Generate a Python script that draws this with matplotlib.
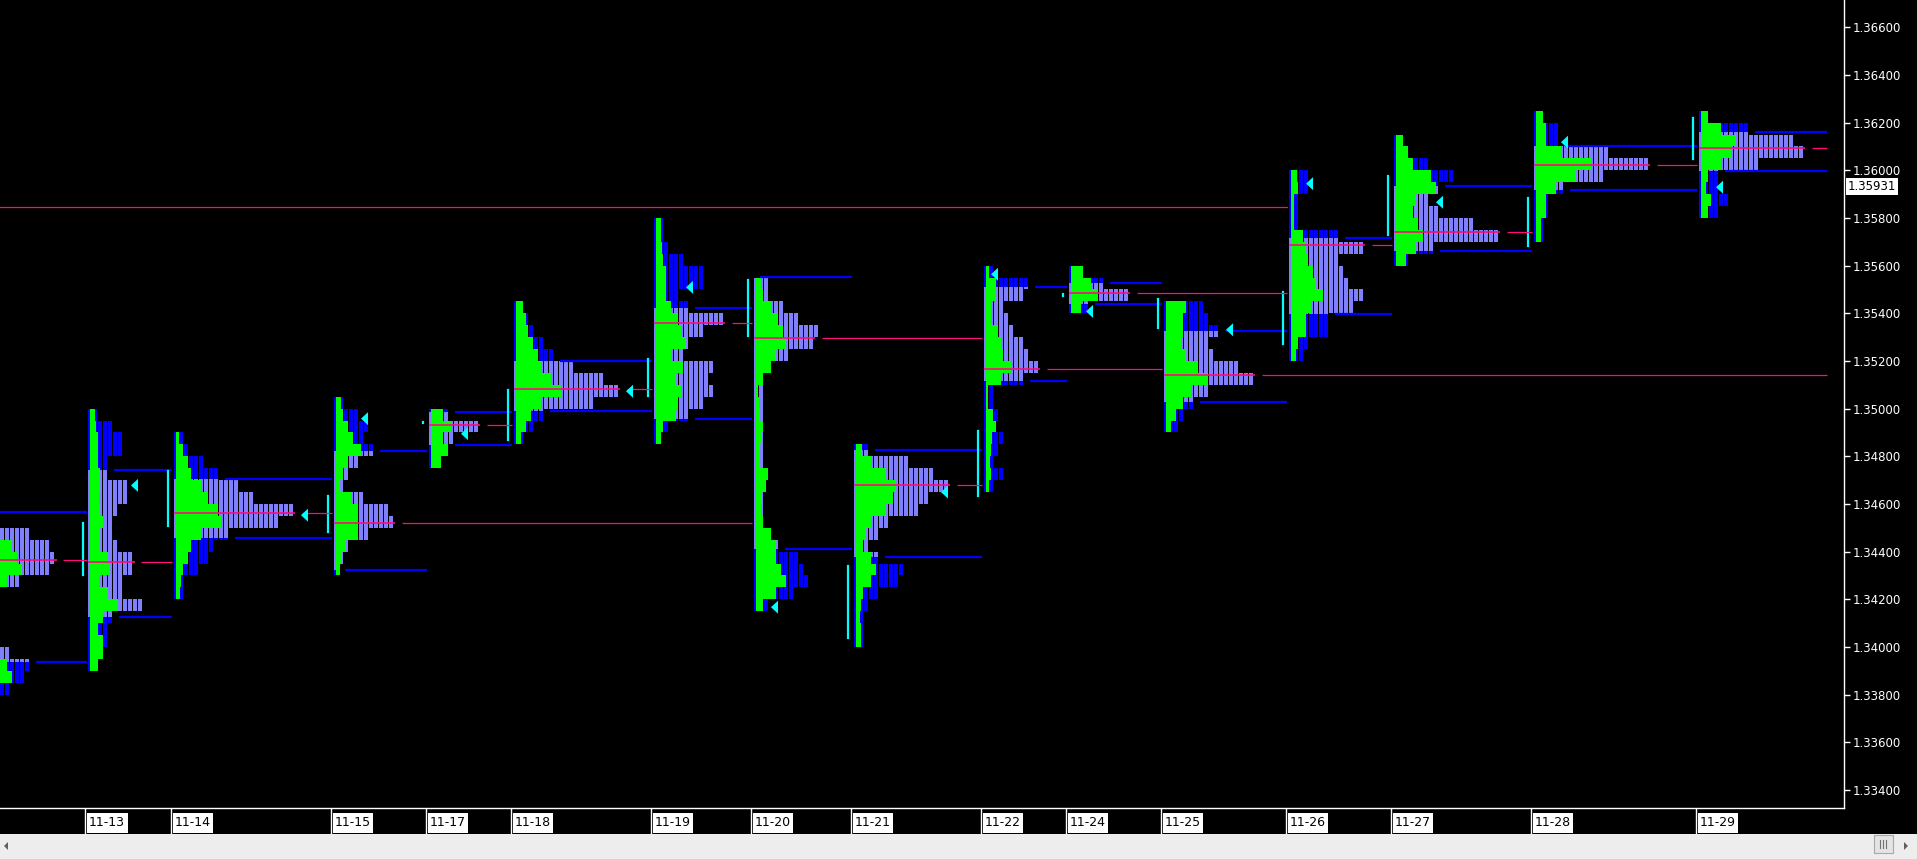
import numpy as np
import matplotlib
matplotlib.use('Agg')
import matplotlib.pyplot as plt
from matplotlib.patches import Polygon, Rectangle

# ---------------- data ----------------
BIN = 0.0005  # price height of one TPO row

days = ['11-12', '11-13', '11-14', '11-15', '11-17', '11-18', '11-19', '11-20',
        '11-21', '11-22', '11-24', '11-25', '11-26', '11-27', '11-28', '11-29']
# start of each session in TPO-period units
day_bar = [-4, 17.6, 34.7, 66.7, 85.7, 102.7, 130.7, 150.7,
           170.7, 196.7, 213.7, 232.7, 257.7, 278.7, 306.7, 339.7]
# upper price of the first row of each profile
profile_top = [1.3460, 1.3500, 1.3490, 1.3505, 1.3500, 1.3545, 1.3580, 1.3555,
               1.3485, 1.3560, 1.3560, 1.3545, 1.3600, 1.3615, 1.3625, 1.3625]
# TPO counts per row (top -> bottom)
tpo_11_12 = [2, 3, 10, 14, 15, 14, 8, 3, 3, 3, 3, 3, 6, 10, 9, 6]
tpo_11_13 = [2, 5, 7, 7, 4, 4, 8, 8, 6, 5, 5, 6, 9, 9, 7, 7, 11, 5, 4, 4, 3, 2]
tpo_11_14 = [2, 3, 6, 9, 13, 16, 24, 21, 11, 8, 7, 5, 2, 2]
tpo_11_15 = [2, 5, 7, 6, 8, 5, 3, 2, 6, 11, 12, 7, 3, 2, 1]
tpo_11_17 = [4, 10, 5, 4, 2]
tpo_11_18 = [2, 3, 4, 6, 8, 12, 18, 21, 16, 6, 4, 2]
tpo_11_19 = [2, 2, 3, 6, 10, 10, 5, 7, 14, 10, 7, 6, 12, 11, 12, 10, 7, 3, 1]
tpo_11_20 = [3, 3, 6, 9, 13, 12, 7, 3, 2, 2, 2, 2, 2, 2, 2, 2, 2, 2, 2, 2,
             2, 3, 5, 9, 10, 11, 8, 3]
tpo_11_21 = [3, 11, 16, 19, 15, 13, 7, 5, 3, 5, 10, 9, 5, 3, 2, 2, 2]
tpo_11_22 = [2, 9, 8, 4, 5, 6, 8, 9, 11, 8, 2, 2, 3, 2, 4, 3, 2, 4, 2]
tpo_11_24 = [3, 7, 12, 4]
tpo_11_25 = [8, 9, 11, 9, 10, 15, 18, 9, 6, 4, 3]
tpo_11_26 = [4, 4, 2, 2, 2, 10, 15, 10, 11, 12, 15, 13, 8, 8, 4, 3]
tpo_11_27 = [2, 3, 7, 12, 9, 7, 9, 16, 21, 8, 3]
tpo_11_28 = [2, 5, 5, 15, 23, 14, 6, 3, 3, 2, 2]
tpo_11_29 = [2, 10, 19, 21, 12, 4, 4, 6, 4]
tpo_counts = [tpo_11_12, tpo_11_13, tpo_11_14, tpo_11_15, tpo_11_17, tpo_11_18,
              tpo_11_19, tpo_11_20, tpo_11_21, tpo_11_22, tpo_11_24, tpo_11_25,
              tpo_11_26, tpo_11_27, tpo_11_28, tpo_11_29]
# volume histogram per row (same rows, in TPO-period widths)
vol_11_12 = [1, 1.5, 3, 6, 7, 8, 5, 3, 3, 3, 3, 3, 3, 5, 6, 3]
vol_11_13 = [1.0, 1.2, 1.5, 1.5, 1.5, 2.0, 2.0, 1.8, 2.0, 2.5, 2.0, 2.0, 3.5, 4.0,
             1.8, 3.5, 5.5, 2.5, 1.5, 2.5, 2.5, 1.5]
vol_11_14 = [0.7, 1.5, 2.5, 3, 5, 6.5, 8.5, 9, 5, 3, 2.5, 1.5, 1.0, 0.8]
vol_11_15 = [1, 1.5, 2.5, 3.5, 5, 2.5, 1.5, 0.8, 3, 4.5, 4.5, 4.5, 2, 1.3, 0.8]
vol_11_17 = [2.5, 4, 2.5, 3.5, 2]
vol_11_18 = [1.5, 2, 2.5, 3.5, 4.5, 5, 7, 9, 5, 3, 2, 1]
vol_11_19 = [1, 1, 1.2, 1.5, 2, 2, 2, 3, 4.5, 5, 6, 3, 5.5, 4, 5, 4.5, 4, 1.5, 1]
vol_11_20 = [1, 1.5, 3, 4.5, 5.5, 6, 4, 3, 1.5, 0.5, 0.7, 0.8, 1.5, 1.2, 0.8, 0.8,
             2.5, 2.0, 1.2, 1.0, 1.5, 3, 4, 4, 5, 6, 4, 1.5]
vol_11_21 = [1.3, 3, 6, 8, 7.5, 6, 3, 2, 1.5, 3, 4, 3, 1.5, 1, 0.8, 1, 1]
vol_11_22 = [0.7, 2, 2, 1, 1, 2.5, 3, 3.5, 5, 3, 0.5, 0.5, 1.5, 2, 1.2, 1, 0.8, 1, 0.7]
vol_11_24 = [2.5, 4, 5.5, 2]
vol_11_25 = [4, 3.5, 3.5, 3, 4, 6.5, 8.5, 5, 3.5, 2, 1]
vol_11_26 = [1.2, 1.5, 0.6, 0.6, 0.6, 2.5, 3, 3.5, 4.5, 5, 6.5, 4, 3, 3, 1.5, 1]
vol_11_27 = [1.5, 2.5, 3.5, 7, 8, 4, 3.5, 4.5, 5.5, 4, 2]
vol_11_28 = [1.5, 2, 2, 5, 11, 8, 4, 2, 2, 1, 1]
vol_11_29 = [1.5, 4, 7, 6, 4, 1.5, 1, 2, 1.5]
volume = [vol_11_12, vol_11_13, vol_11_14, vol_11_15, vol_11_17, vol_11_18,
          vol_11_19, vol_11_20, vol_11_21, vol_11_22, vol_11_24, vol_11_25,
          vol_11_26, vol_11_27, vol_11_28, vol_11_29]

vah = [1.34567, 1.34742, 1.34705, 1.34824, 1.34985, 1.35201, 1.35424, 1.35551,
       1.34828, 1.35509, 1.35528, 1.35327, 1.35717, 1.35935, 1.36104, 1.36162]
val = [1.33937, 1.34126, 1.34459, 1.34323, 1.34849, 1.34991, 1.34957, 1.34410,
       1.34379, 1.35118, 1.35440, 1.35028, 1.35397, 1.35663, 1.35917, 1.35998]
poc = [1.34364, 1.34356, 1.34561, 1.34520, 1.34932, 1.35081, 1.35358, 1.35295,
       1.34680, 1.35166, 1.35484, 1.35140, 1.35685, 1.35741, 1.36021, 1.36092]
poc_until = ['11-13', '11-14', '11-15', '11-20', '11-18', '11-19', '11-20', '11-22',
             '11-22', '11-25', '11-26', None, '11-27', '11-28', '11-29', None]
ib_high = [None, 1.34520, 1.34738, 1.34634, 1.34946, 1.35078, 1.35208, 1.35540,
           1.34340, 1.34907, 1.35481, 1.35460, 1.35489, 1.35976, 1.35884, 1.36220]
ib_low = [None, 1.34302, 1.34508, 1.34483, 1.34940, 1.34869, 1.35053, 1.35305,
          1.34038, 1.34634, 1.35473, 1.35339, 1.35271, 1.35729, 1.35683, 1.36048]
marker_price = [None, 1.34678, 1.34553, 1.34958, 1.34895, 1.35073, 1.35509, 1.34167,
                1.34650, 1.35564, 1.35408, 1.35331, 1.35944, 1.35866, 1.36118, 1.35929]
marker_bar = [None, 8.6, 25.5, 5.5, 6.5, 22.5, 6.5, 3.5,
              17.5, 1.5, 3.5, 12.5, 3.5, 8.5, 5.5, 3.5]
old_poc_price = 1.35848
old_poc_until = '11-26'
last_price = 1.35931
price_ticks = [1.334, 1.336, 1.338, 1.340, 1.342, 1.344, 1.346, 1.348, 1.350,
               1.352, 1.354, 1.356, 1.358, 1.360, 1.362, 1.364, 1.366]

# ---------------- style ----------------
W, H, DPI = 1917, 859, 100
BLUE = '#0000FF'
LAV = '#8080FF'
GREEN = '#00FF00'
PINK = '#FF0A7F'
CYAN = '#00FFFF'
PX_PER_PRICE = 23834.0
XMAX = 1844 / 5.0
RIGHT_END = 365.4

fig = plt.figure(figsize=(W / DPI, H / DPI), dpi=DPI, facecolor='black')
ax = fig.add_axes([0, 51 / H, 1844 / W, 808 / H])
ax.set_facecolor('black')
ax.set_xlim(0, XMAX)
ax.set_ylim(1.334 - 18 / PX_PER_PRICE, 1.366 + 27.3 / PX_PER_PRICE)


def count_at(i, price):
    b = int((profile_top[i] - price) // BIN)
    c = tpo_counts[i]
    return c[b] if 0 <= b < len(c) else 0


def day_start(label):
    if label is None:
        return RIGHT_END
    return day_bar[days.index(label)] - 0.3


# TPO columns
xs, bots, hts, cols = [], [], [], []
for i, cnt in enumerate(tpo_counts):
    x0 = day_bar[i]
    top = profile_top[i]
    for b, c in enumerate(cnt):
        hi = top - b * BIN
        lo = hi - BIN
        segs = [(hi, max(lo, vah[i]), BLUE),
                (min(hi, vah[i]), max(lo, val[i]), LAV),
                (min(hi, val[i]), lo, BLUE)]
        for s_hi, s_lo, col in segs:
            if s_hi - s_lo > 1e-9:
                for k in range(c):
                    xs.append(x0 + k)
                    bots.append(s_lo)
                    hts.append(s_hi - s_lo)
                    cols.append(col)
ax.bar(xs, hts, width=0.8, bottom=bots, align='edge', color=cols,
       linewidth=0, zorder=2)

# volume histograms
for i, v in enumerate(volume):
    x0 = day_bar[i]
    top = profile_top[i]
    ys = [top - (b + 1) * BIN for b in range(len(v))]
    ax.barh(ys, v, height=BIN, left=x0 + 0.4, align='edge', color=GREEN,
            linewidth=0, zorder=3)

# value area extension lines, POC lines, IB lines, markers
TRI_H = 13 / PX_PER_PRICE
for i in range(len(days)):
    x0 = day_bar[i]
    nxt = days[i + 1] if i + 1 < len(days) else None
    end = day_start(nxt)
    for p in (vah[i], val[i]):
        xs0 = x0 + count_at(i, p) + 1.2
        ax.plot([xs0, end], [p, p], color=BLUE, lw=1.6, zorder=4,
                solid_capstyle='butt')
    pc = count_at(i, poc[i])
    ax.plot([x0, x0 + pc + 0.3], [poc[i], poc[i]], color=PINK, lw=1.2, zorder=5,
            solid_capstyle='butt')
    ax.plot([x0 + pc + 1.6, day_start(poc_until[i])], [poc[i], poc[i]],
            color=PINK, lw=0.9, zorder=5, solid_capstyle='butt')
    if ib_high[i] is not None:
        ax.plot([x0 - 1.1, x0 - 1.1], [ib_low[i], ib_high[i]], color=CYAN,
                lw=1.6, zorder=4, solid_capstyle='projecting')
    if marker_price[i] is not None:
        tx = x0 + marker_bar[i]
        mp = marker_price[i]
        ax.add_patch(Polygon([(tx, mp), (tx + 1.4, mp + TRI_H / 2),
                              (tx + 1.4, mp - TRI_H / 2)], closed=True,
                             facecolor=CYAN, edgecolor='none', zorder=6))

ax.plot([0, day_start(old_poc_until)], [old_poc_price, old_poc_price],
        color=PINK, lw=0.9, zorder=5)

# axes styling
ax.yaxis.tick_right()
ax.set_yticks(price_ticks)
ax.set_yticklabels([f'{p:.5f}' for p in price_ticks])
ax.tick_params(axis='y', colors='white', labelcolor='white', length=4, width=1,
               pad=2, labelsize=8.5)
ax.set_xticks([])
for s in ['top', 'left']:
    ax.spines[s].set_visible(False)
for s in ['right', 'bottom']:
    ax.spines[s].set_color('white')
    ax.spines[s].set_linewidth(1)

ax.text(369.6, last_price, f'{last_price:.5f}', color='black', fontsize=8.5,
        ha='left', va='center', clip_on=False, zorder=10,
        bbox=dict(boxstyle='square,pad=0.15', facecolor='white', edgecolor='none'))

# date strip
ax2 = fig.add_axes([0, 25 / H, 1844 / W, 25 / H])
ax2.set_xlim(0, XMAX)
ax2.set_ylim(0, 1)
ax2.axis('off')
for i, d in enumerate(days):
    x0 = day_bar[i]
    if x0 < 0:
        continue
    ax2.plot([x0 - 0.6, x0 - 0.6], [0, 1], color='white', lw=1)
    ax2.add_patch(Rectangle((x0 - 0.2, 0.05), 8.1, 0.8, facecolor='white',
                            edgecolor='none'))
    ax2.text(x0 + 0.15, 0.44, d, color='black', fontsize=9, ha='left', va='center')

# scrollbar
fig.patches.append(Rectangle((0, 0), 1, 25 / H, transform=fig.transFigure,
                             facecolor='#EDEDED', edgecolor='none', zorder=0))
fig.patches.append(Rectangle((1874 / W, 6 / H), 19 / W, 18 / H,
                             transform=fig.transFigure, facecolor='#E4E4E4',
                             edgecolor='#A8A8A8', lw=0.8, zorder=1))
for gx in (1880, 1883, 1886):
    fig.lines.append(plt.Line2D([gx / W, gx / W], [11 / H, 19 / H],
                                transform=fig.transFigure, color='#707070', lw=0.8))
fig.patches.append(Polygon([(4 / W, 13 / H), (8 / W, 9 / H), (8 / W, 17 / H)],
                           closed=True, transform=fig.transFigure,
                           facecolor='#606060', edgecolor='none'))
fig.patches.append(Polygon([(1908 / W, 13 / H), (1904 / W, 9 / H), (1904 / W, 17 / H)],
                           closed=True, transform=fig.transFigure,
                           facecolor='#606060', edgecolor='none'))

fig.savefig('out.png', dpi=DPI, facecolor='black')
